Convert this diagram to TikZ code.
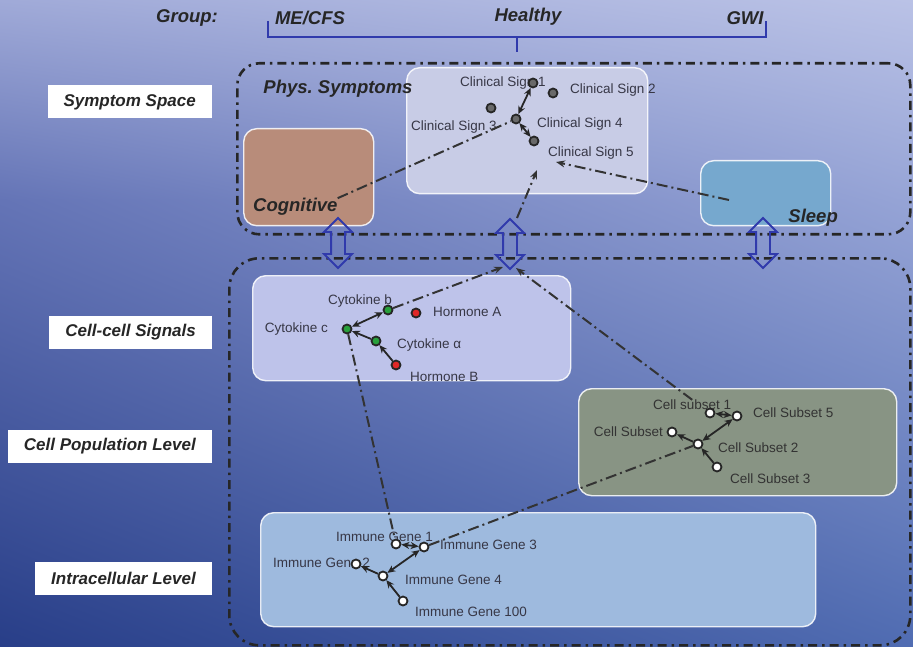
\documentclass[tikz,border=0pt]{standalone}
\usepackage{fontspec}
\setmainfont{Liberation Sans}
\usetikzlibrary{arrows.meta,shapes.arrows,shadings}
\definecolor{bgtl}{RGB}{160,170,216}
\definecolor{bgtr}{RGB}{186,194,230}
\definecolor{bgml}{RGB}{100,116,182}
\definecolor{bgmr}{RGB}{150,164,214}
\definecolor{bgbl}{RGB}{40,62,136}
\definecolor{bgbr}{RGB}{80,108,178}
\definecolor{brkblue}{RGB}{48,58,172}
\definecolor{cogfill}{RGB}{184,140,122}
\definecolor{clinfill}{RGB}{200,204,230}
\definecolor{slpfill}{RGB}{118,168,206}
\definecolor{cellfill}{RGB}{190,195,234}
\definecolor{popfill}{RGB}{136,148,132}
\definecolor{genefill}{RGB}{158,186,222}
\definecolor{txtgray}{RGB}{55,55,70}
\definecolor{sigfill}{RGB}{105,105,105}
\definecolor{cytgreen}{RGB}{40,160,60}
\definecolor{hormred}{RGB}{225,40,40}
\tikzset{
  zone/.style={draw=black!85,line width=2.6pt,dash pattern=on 9pt off 5pt on 2.5pt off 5pt,rounded corners=22pt,anchor=north west,inner sep=0pt},
  panel/.style={draw=white,draw opacity=0.85,line width=1.4pt,rounded corners=13pt,anchor=north west,inner sep=0pt},
  tag/.style={fill=white,font=\fontsize{17}{20}\selectfont\bfseries\itshape,text=black!85,minimum height=33pt,inner xsep=16pt,anchor=east},
  head/.style={font=\fontsize{18.5}{22}\selectfont\bfseries\itshape,text=black!85,inner sep=0pt},
  lbl/.style={font=\fontsize{13.5}{16}\selectfont,text=txtgray,inner sep=0pt},
  sig/.style={circle,draw=black!85,line width=1.8pt,fill=sigfill,minimum size=9pt,inner sep=0pt},
  cyt/.style={sig,fill=cytgreen},
  horm/.style={sig,fill=hormred},
  cel/.style={sig,fill=white},
  net/.style={{Stealth[length=8pt,width=7pt]}-{Stealth[length=8pt,width=7pt]},line width=1.8pt,black!85},
  arr/.style={-{Stealth[length=8pt,width=7pt]},line width=1.8pt,black!85},
  link/.style={line width=2pt,black!80,dash pattern=on 11pt off 4pt on 2pt off 4pt},
  larr/.style={link,-{Stealth[length=9pt,width=7pt]}},
  brk/.style={brkblue,line width=2.6pt},
  updown/.style={double arrow,draw=brkblue,line width=1.8pt,rotate=90,minimum height=50pt,inner xsep=0pt,inner ysep=6pt,double arrow head extend=7pt}
}
\begin{document}
\begin{tikzpicture}[x=1pt,y=-1pt]
  \useasboundingbox (0,0) rectangle (913,647);
  \shade[upper left=bgtl,upper right=bgtr,lower left=bgml,lower right=bgmr] (0,0) rectangle (913,200.5);
  \shade[upper left=bgml,upper right=bgmr,lower left=bgbl,lower right=bgbr] (0,200) rectangle (913,647);

  % groups
  \node[head] (grp) at (187,18) {Group:};
  \node[head] (me) at (310,18) {ME/CFS};
  \node[head] (hl) at (528,17) {Healthy};
  \node[head] (gwi) at (745,18) {GWI};
  \draw[brk] (268,21) -- (268,37) -- (766,37) -- (766,21);
  \draw[brk] (517,37) -- (517,52);

  % zones
  \node[zone,minimum width=673pt,minimum height=171pt] (symz) at (236,62) {};
  \node[zone,rounded corners=30pt,minimum width=681pt,minimum height=387pt] (bioz) at (228,257) {};

  % level tags
  \node[tag] (tsym) at (212,102) {Symptom Space};
  \node[tag] (tcell) at (212,332) {Cell-cell Signals};
  \node[tag] (tpop) at (212,446) {Cell Population Level};
  \node[tag] (tgene) at (212,578) {Intracellular Level};

  % panels
  \node[panel,fill=cogfill,minimum width=130pt,minimum height=97pt] (cog) at (243,128) {};
  \node[panel,fill=clinfill,minimum width=241pt,minimum height=126pt] (clin) at (406,67) {};
  \node[panel,fill=slpfill,minimum width=130pt,minimum height=65pt] (slp) at (700,160) {};
  \node[panel,fill=cellfill,minimum width=318pt,minimum height=105pt] (cell) at (252,275) {};
  \node[panel,fill=popfill,minimum width=318pt,minimum height=107pt] (pop) at (578,388) {};
  \node[panel,fill=genefill,minimum width=555pt,minimum height=114pt] (gene) at (260,512) {};

  \node[head] (phys) at (338,89) {Phys.\ Symptoms};
  \node[head,anchor=west] (cogl) at (253,207) {Cognitive};
  \node[head,anchor=east] (slpl) at (838,218) {Sleep};

  \node[updown] (dA) at (338,243) {};
  \node[updown] (dB) at (510,244) {};
  \node[updown] (dC) at (763,243) {};

  % labels
  \node[lbl] (sg1l) at (503,83) {Clinical Sign 1};
  \node[lbl,anchor=west] (sg2l) at (570,90) {Clinical Sign 2};
  \node[lbl,anchor=west] (sg3l) at (411,127) {Clinical Sign 3};
  \node[lbl,anchor=west] (sg4l) at (537,124) {Clinical Sign 4};
  \node[lbl,anchor=west] (sg5l) at (548,153) {Clinical Sign 5};
  \node[lbl,anchor=west] (cybl) at (328,301) {Cytokine b};
  \node[lbl,anchor=west] (hAl) at (433,312) {Hormone A};
  \node[lbl,anchor=east] (cycl) at (328,329) {Cytokine c};
  \node[lbl,anchor=west] (cyal) at (397,345) {Cytokine α};
  \node[lbl,anchor=west] (hBl) at (410,377) {Hormone B};
  \node[lbl,text=black!80,anchor=west] (cs1l) at (653,405) {Cell subset 1};
  \node[lbl,text=black!80,anchor=west] (cs5l) at (753,413) {Cell Subset 5};
  \node[lbl,text=black!80,anchor=east] (cs4l) at (663,432) {Cell Subset};
  \node[lbl,text=black!80,anchor=west] (cs2l) at (718,448) {Cell Subset 2};
  \node[lbl,text=black!80,anchor=west] (cs3l) at (730,479) {Cell Subset 3};
  \node[lbl,anchor=west] (ig1l) at (336,537) {Immune Gene 1};
  \node[lbl,anchor=west] (ig3l) at (440,545) {Immune Gene 3};
  \node[lbl,anchor=west] (ig2l) at (273,563) {Immune Gene 2};
  \node[lbl,anchor=west] (ig4l) at (405,580) {Immune Gene 4};
  \node[lbl,anchor=west] (ig100l) at (415,612) {Immune Gene 100};

  % nodes
  \node[sig] (sg1) at (533,83) {};
  \node[sig] (sg2) at (553,93) {};
  \node[sig] (sg3) at (491,108) {};
  \node[sig] (sg4) at (516,119) {};
  \node[sig] (sg5) at (534,141) {};
  \node[cyt] (cyb) at (388,310) {};
  \node[horm] (hA) at (416,313) {};
  \node[cyt] (cyc) at (347,329) {};
  \node[cyt] (cya) at (376,341) {};
  \node[horm] (hB) at (396,365) {};
  \node[cel] (cs1) at (710,413) {};
  \node[cel] (cs5) at (737,416) {};
  \node[cel] (cs4) at (672,432) {};
  \node[cel] (cs2) at (698,444) {};
  \node[cel] (cs3) at (717,467) {};
  \node[cel] (ig1) at (396,544) {};
  \node[cel] (ig3) at (424,547) {};
  \node[cel] (ig2) at (356,564) {};
  \node[cel] (ig4) at (383,576) {};
  \node[cel] (ig100) at (403,601) {};

  \draw[net] (sg1) -- (sg4);
  \draw[net] (sg4) -- (sg5);
  \draw[net] (cyb) -- (cyc);
  \draw[arr] (cya) -- (cyc);
  \draw[arr] (hB) -- (cya);
  \draw[net] (cs1) -- (cs5);
  \draw[net] (cs2) -- (cs5);
  \draw[arr] (cs2) -- (cs4);
  \draw[arr] (cs3) -- (cs2);
  \draw[net] (ig1) -- (ig3);
  \draw[net] (ig4) -- (ig3);
  \draw[arr] (ig4) -- (ig2);
  \draw[arr] (ig100) -- (ig4);

  % cross-level links
  \coordinate (slpin) at (729,200);
  \coordinate (sg5in) at (556,162);
  \coordinate (sg5lo) at (537,170);
  \coordinate (dBtop) at (517,218);
  \coordinate (dBbotL) at (503,267);
  \coordinate (dBbotR) at (516,268);
  \draw[link] (cogl.north east) -- (sg4);
  \draw[larr] (slpin) -- (sg5in);
  \draw[larr] (dBtop) -- (sg5lo);
  \draw[larr] (cyb) -- (dBbotL);
  \draw[larr] (cs1l.north) -- (dBbotR);
  \draw[link] (cyc) -- (ig1);
  \draw[link] (ig3) -- (cs2);
\end{tikzpicture}
\end{document}
